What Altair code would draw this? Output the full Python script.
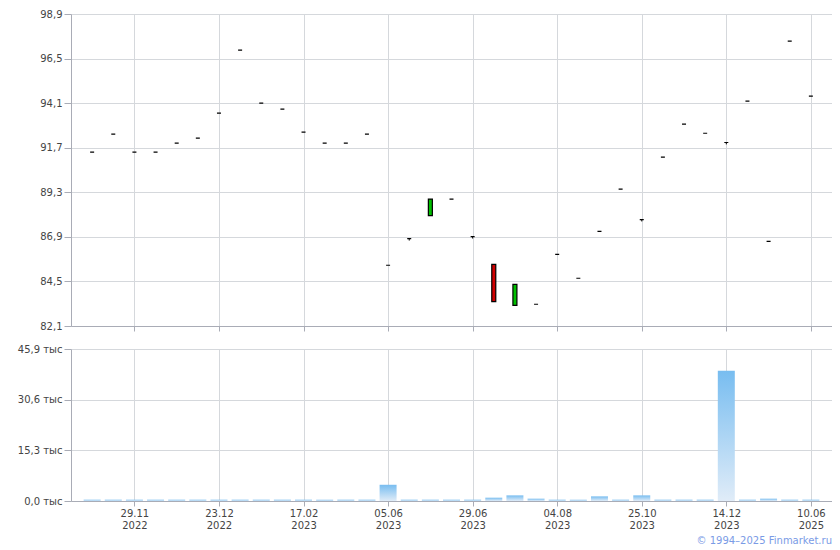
import altair as alt
import pandas as pd

# candle index (one per trading date shown)
idx = list(range(35))
opens = [91.46, 92.43, 91.46, 91.46, 91.95, 92.22, 93.56, 96.96, 94.10, 93.78,
         92.54, 91.95, 91.95, 92.43, 85.37, 86.80, 88.04, 88.93, 86.91, 85.42,
         83.21, 83.27, 85.96, 84.67, 87.20, 89.47, 87.83, 91.19, 92.97, 92.48,
         91.98, 94.21, 86.66, 97.44, 94.48]
closes = [91.46, 92.43, 91.46, 91.46, 91.95, 92.22, 93.56, 96.96, 94.10, 93.78,
          92.54, 91.95, 91.95, 92.43, 85.37, 86.80, 88.93, 88.93, 86.91, 83.41,
          84.34, 83.27, 85.96, 84.67, 87.20, 89.47, 87.83, 91.19, 92.97, 92.48,
          91.98, 94.21, 86.66, 97.44, 94.48]
highs = [91.46, 92.43, 91.46, 91.46, 91.95, 92.22, 93.56, 96.96, 94.10, 93.78,
         92.54, 91.95, 91.95, 92.43, 85.37, 86.80, 88.93, 88.93, 86.91, 85.42,
         84.34, 83.27, 85.96, 84.67, 87.20, 89.47, 87.83, 91.19, 92.97, 92.48,
         91.98, 94.21, 86.66, 97.44, 94.48]
lows = [91.46, 92.43, 91.46, 91.46, 91.95, 92.22, 93.56, 96.96, 94.10, 93.78,
        92.54, 91.95, 91.95, 92.43, 85.37, 86.70, 88.04, 88.93, 86.81, 83.41,
        83.21, 83.27, 85.96, 84.67, 87.20, 89.47, 87.73, 91.19, 92.97, 92.48,
        91.88, 94.21, 86.66, 97.44, 94.48]
# volume, thousands
volume_k = [0.4, 0.4, 0.4, 0.4, 0.4, 0.4, 0.4, 0.4, 0.4, 0.4,
            0.4, 0.4, 0.4, 0.4, 4.9, 0.4, 0.4, 0.4, 0.4, 1.0,
            1.7, 0.7, 0.4, 0.4, 1.4, 0.4, 1.7, 0.4, 0.4, 0.4,
            39.3, 0.4, 0.7, 0.4, 0.4]

tick_idx = [2, 6, 10, 14, 18, 22, 26, 30, 34]
tick_day = ["29.11", "23.12", "17.02", "05.06", "29.06", "04.08", "25.10", "14.12", "10.06"]
tick_year = ["2022", "2022", "2023", "2023", "2023", "2023", "2023", "2023", "2025"]
price_ticks = [82.1, 84.5, 86.9, 89.3, 91.7, 94.1, 96.5, 98.9]
vol_ticks = [0.0, 15.3, 30.6, 45.9]

direction = ["up" if c > o else ("down" if c < o else "flat") for o, c in zip(opens, closes)]
df = pd.DataFrame({"i": idx, "open": opens, "close": closes, "high": highs,
                   "low": lows, "dir": direction, "vol": volume_k})

W = 761
H_TOP = 312
H_BOT = 152

x_scale = alt.Scale(domain=[-1, 35], nice=False, zero=False, padding=0)

label_expr = ""
for t, d, y in zip(tick_idx, tick_day, tick_year):
    label_expr += f"datum.value == {t} ? ['{d}', '{y}'] : "
label_expr += "''"

x_top = alt.X("i:Q", scale=x_scale, title=None,
              axis=alt.Axis(values=tick_idx, labels=False, grid=True, tickSize=5))
x_bot = alt.X("i:Q", scale=x_scale, title=None,
              axis=alt.Axis(values=tick_idx, labelExpr=label_expr, grid=True,
                            tickSize=5, labelLineHeight=12, labelPadding=2))

y_price = alt.Scale(domain=[82.1, 98.9], nice=False, zero=False)
price_axis = alt.Axis(values=price_ticks, tickSize=7, labelPadding=2, grid=True,
                      labelExpr="replace(format(datum.value, '.1f'), '.', ',')")

base = alt.Chart(df)
wick = base.mark_rule(color="black", strokeWidth=1).encode(
    x=x_top,
    y=alt.Y("low:Q", scale=y_price, axis=price_axis, title=None),
    y2="high:Q",
)
body = base.mark_bar(size=4, stroke="black", strokeWidth=1.2).encode(
    x=x_top,
    y=alt.Y("open:Q", scale=y_price, title=None),
    y2="close:Q",
    color=alt.Color("dir:N", legend=None,
                    scale=alt.Scale(domain=["up", "down", "flat"],
                                    range=["#00c000", "#d00000", "#000000"])),
)
top = alt.layer(wick, body).properties(width=W, height=H_TOP)

grad = alt.LinearGradient(
    gradient="linear", x1=0, y1=0, x2=0, y2=1,
    stops=[alt.GradientStop(offset=0, color="#78bdf0"),
           alt.GradientStop(offset=1, color="#e0ecf8")],
)
vol_axis = alt.Axis(values=vol_ticks, tickSize=7, labelPadding=2, grid=True,
                    labelExpr="replace(format(datum.value, '.1f'), '.', ',') + ' тыс'")
bars = base.mark_bar(size=17, color=grad).encode(
    x=x_bot,
    y=alt.Y("vol:Q", scale=alt.Scale(domain=[0, 45.9], nice=False), axis=vol_axis, title=None),
)
copyright_df = pd.DataFrame({"t": ["© 1994–2025 Finmarket.ru"]})
copy_txt = alt.Chart(copyright_df).mark_text(
    align="right", baseline="middle", fontSize=10, font="DejaVu Sans", color="#7a9be6"
).encode(x=alt.value(W), y=alt.value(H_BOT + 40), text="t:N")
bottom = alt.layer(bars, copy_txt).properties(width=W, height=H_BOT)

chart = alt.vconcat(top, bottom, spacing=12).properties(
    padding={"left": 9, "top": 1, "right": 0, "bottom": 0}
).configure_view(stroke=None).configure_axis(
    domainColor="#a9acb6", tickColor="#a9acb6", gridColor="#d5d8dc",
    labelColor="#444444", labelFont="DejaVu Sans", labelFontSize=10,
    domainWidth=1, gridWidth=1,
)

chart.save("out.html", embed_options={"renderer": "svg", "actions": False})
